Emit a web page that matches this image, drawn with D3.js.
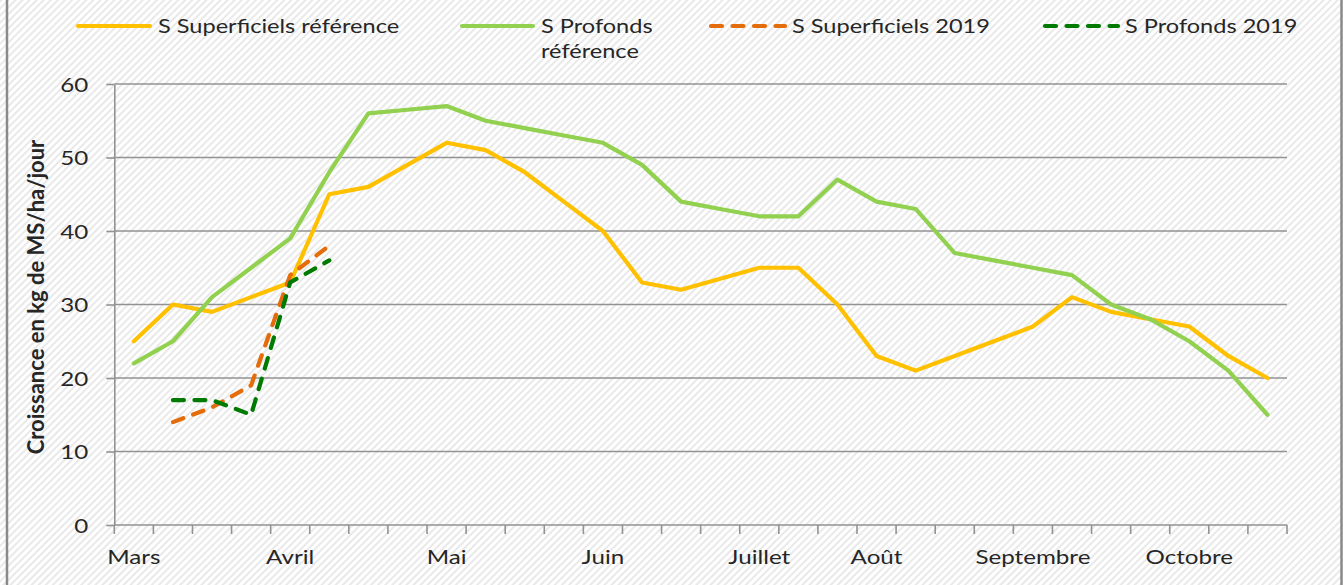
<!DOCTYPE html>
<html>
<head>
<meta charset="utf-8">
<script src="https://cdn.jsdelivr.net/npm/d3@7"></script>
<style>
  body { margin: 0; background: #fff; }
  text { font-family: Lato, "Open Sans", sans-serif; fill: #262626; }
</style>
</head>
<body>
<div id="chart"></div>
<script>
// Data - weekly periods from March to October
var categories = [
  "Mars 1", "Mars 2", "Mars 3", "Mars 4",
  "Avril 1", "Avril 2", "Avril 3", "Avril 4",
  "Mai 1", "Mai 2", "Mai 3", "Mai 4",
  "Juin 1", "Juin 2", "Juin 3", "Juin 4",
  "Juillet 1", "Juillet 2", "Juillet 3",
  "Août 1", "Août 2", "Août 3", "Août 4",
  "Septembre 1", "Septembre 2", "Septembre 3", "Septembre 4",
  "Octobre 1", "Octobre 2", "Octobre 3"
];

// month names shown on the axis, and the period each one sits under
var monthLabels = ["Mars", "Avril", "Mai", "Juin", "Juillet", "Août", "Septembre", "Octobre"];
var monthFirst = ["Mars 1", "Avril 1", "Mai 1", "Juin 1", "Juillet 1", "Août 1", "Septembre 1", "Octobre 1"];

var yTicks = [0, 10, 20, 30, 40, 50, 60];

var seriesNames = ["S Superficiels référence", "S Profonds référence", "S Superficiels 2019", "S Profonds 2019"];

var superficielsRef = [25, 30, 29, 31, 33, 45, 46, 49, 52, 51, 48, 44, 40, 33, 32, 33.5,
  35, 35, 30, 23, 21, 23, 25, 27, 31, 29, 28, 27, 23, 20];
var profondsRef = [22, 25, 31, 35, 39, 48, 56, 56.5, 57, 55, 54, 53, 52, 49, 44, 43,
  42, 42, 47, 44, 43, 37, 36, 35, 34, 30, 28, 25, 21, 15];
var superficiels2019 = [null, 14, 16, 19, 34, 38];
var profonds2019 = [null, 17, 17, 15, 33, 36];

// Part 1 - canvas and dimensions
var width = 1343;
var height = 585;
var plotLeft = 114.3;
var plotRight = 1287;
var plotTop = 84;
var plotBottom = 525;
var SX = 1.24; // horizontal stretch of the text in the picture

var svg = d3
  .select("#chart")
  .append("svg")
  .attr("width", width)
  .attr("height", height);

// hatched background
var defs = svg.append("defs");
var pattern = defs.append("pattern")
  .attr("id", "hatch")
  .attr("patternUnits", "userSpaceOnUse")
  .attr("width", 5)
  .attr("height", 5)
  .attr("patternTransform", "rotate(45)");
pattern.append("rect").attr("width", 5).attr("height", 5).attr("fill", "#ffffff");
pattern.append("line")
  .attr("x1", 1).attr("y1", 0).attr("x2", 1).attr("y2", 5)
  .attr("stroke", "#e4e4e4")
  .attr("stroke-width", 1.6);

svg.append("rect")
  .attr("width", width)
  .attr("height", height)
  .attr("fill", "url(#hatch)");

// chart frame (only the sides are visible)
svg.append("line")
  .attr("x1", 7).attr("x2", 7).attr("y1", 0).attr("y2", height)
  .attr("stroke", "#8a8a8a").attr("stroke-width", 2.5);
svg.append("line")
  .attr("x1", 1341.5).attr("x2", 1341.5).attr("y1", 0).attr("y2", height)
  .attr("stroke", "#8a8a8a").attr("stroke-width", 2.5);

// Part 2 - scales
var x = d3.scaleBand()
  .domain(categories)
  .range([plotLeft, plotRight]);

var y = d3.scaleLinear()
  .domain([0, 60])
  .range([plotBottom, plotTop]);

function xMid(c) {
  return x(c) + x.bandwidth() / 2;
}

// gridlines
svg.append("g")
  .selectAll("line")
  .data(yTicks.filter(function (d) { return d > 0; }))
  .enter()
  .append("line")
  .attr("x1", plotLeft)
  .attr("x2", plotRight)
  .attr("y1", function (d) { return y(d); })
  .attr("y2", function (d) { return y(d); })
  .attr("stroke", "#929292")
  .attr("stroke-width", 1.6);

// y axis
var yAxis = svg.append("g")
  .attr("transform", "translate(" + plotLeft + ",0)")
  .call(d3.axisLeft(y).tickValues(yTicks).tickSize(8).tickSizeOuter(0));
yAxis.select(".domain").attr("stroke", "#929292").attr("stroke-width", 1.6);
yAxis.selectAll(".tick line").attr("stroke", "#929292").attr("stroke-width", 1.6);
yAxis.selectAll(".tick text")
  .attr("x", 0)
  .attr("dy", "0.36em")
  .attr("transform", "translate(-26,0) scale(" + SX + ",1)")
  .style("font-size", "19.5px")
  .style("font-family", "Lato, sans-serif")
  .attr("fill", "#262626");

// x axis - line, ticks at the period boundaries, month labels
var xAxis = svg.append("g");
xAxis.append("line")
  .attr("x1", plotLeft).attr("x2", plotRight)
  .attr("y1", plotBottom).attr("y2", plotBottom)
  .attr("stroke", "#929292").attr("stroke-width", 1.6);

xAxis.selectAll(".xtick")
  .data(categories.concat(["end"]))
  .enter()
  .append("line")
  .attr("class", "xtick")
  .attr("x1", function (d) { return d === "end" ? plotRight : x(d); })
  .attr("x2", function (d) { return d === "end" ? plotRight : x(d); })
  .attr("y1", plotBottom)
  .attr("y2", plotBottom + 9)
  .attr("stroke", "#929292").attr("stroke-width", 1.6);

xAxis.selectAll(".xlabel")
  .data(monthLabels)
  .enter()
  .append("text")
  .attr("class", "xlabel")
  .attr("text-anchor", "middle")
  .attr("transform", function (d, i) {
    return "translate(" + xMid(monthFirst[i]) + "," + 564 + ") scale(" + SX + ",1)";
  })
  .style("font-size", "19.5px")
  .text(function (d) { return d; });

// y axis title
svg.append("text")
  .attr("transform", "translate(44,297) rotate(-90)")
  .attr("text-anchor", "middle")
  .style("font-size", "22px")
  .style("font-weight", "bold")
  .attr("fill", "#000")
  .text("Croissance en kg de MS/ha/jour");

// Part 3 - the lines
var colors = ["#FFC000", "#92D050", "#E46C0A", "#007A00"];
var dashes = [null, null, "11,10.5", "11,10.5"];
var allSeries = [superficielsRef, profondsRef, superficiels2019, profonds2019];

var line = d3.line()
  .defined(function (d) { return d != null; })
  .x(function (d, i) { return xMid(categories[i]); })
  .y(function (d) { return y(d); });

svg.append("g")
  .selectAll("path")
  .data(allSeries)
  .enter()
  .append("path")
  .attr("d", line)
  .attr("fill", "none")
  .attr("stroke", function (d, i) { return colors[i]; })
  .attr("stroke-width", 4.2)
  .attr("stroke-linejoin", "round")
  .attr("stroke-linecap", "round")
  .attr("stroke-dasharray", function (d, i) { return dashes[i]; });

// Part 4 - legend
var legendPos = [
  { x1: 78, x2: 150, tx: 158 },
  { x1: 462, x2: 533, tx: 541 },
  { x1: 711, x2: 785, tx: 792 },
  { x1: 1045, x2: 1118, tx: 1125 }
];
var legend = svg.append("g");
seriesNames.forEach(function (name, i) {
  var p = legendPos[i];
  legend.append("line")
    .attr("x1", p.x1).attr("x2", p.x2)
    .attr("y1", 26).attr("y2", 26)
    .attr("stroke", colors[i])
    .attr("stroke-width", 4.2)
    .attr("stroke-linecap", "round")
    .attr("stroke-dasharray", dashes[i]);
  // the second entry wraps onto two lines
  var lines = i === 1 ? ["S Profonds", "référence"] : [name];
  lines.forEach(function (t, k) {
    legend.append("text")
      .attr("transform", "translate(" + p.tx + "," + (33 + k * 25) + ") scale(" + SX + ",1)")
      .style("font-size", "19px")
      .text(t);
  });
});
</script>
</body>
</html>
